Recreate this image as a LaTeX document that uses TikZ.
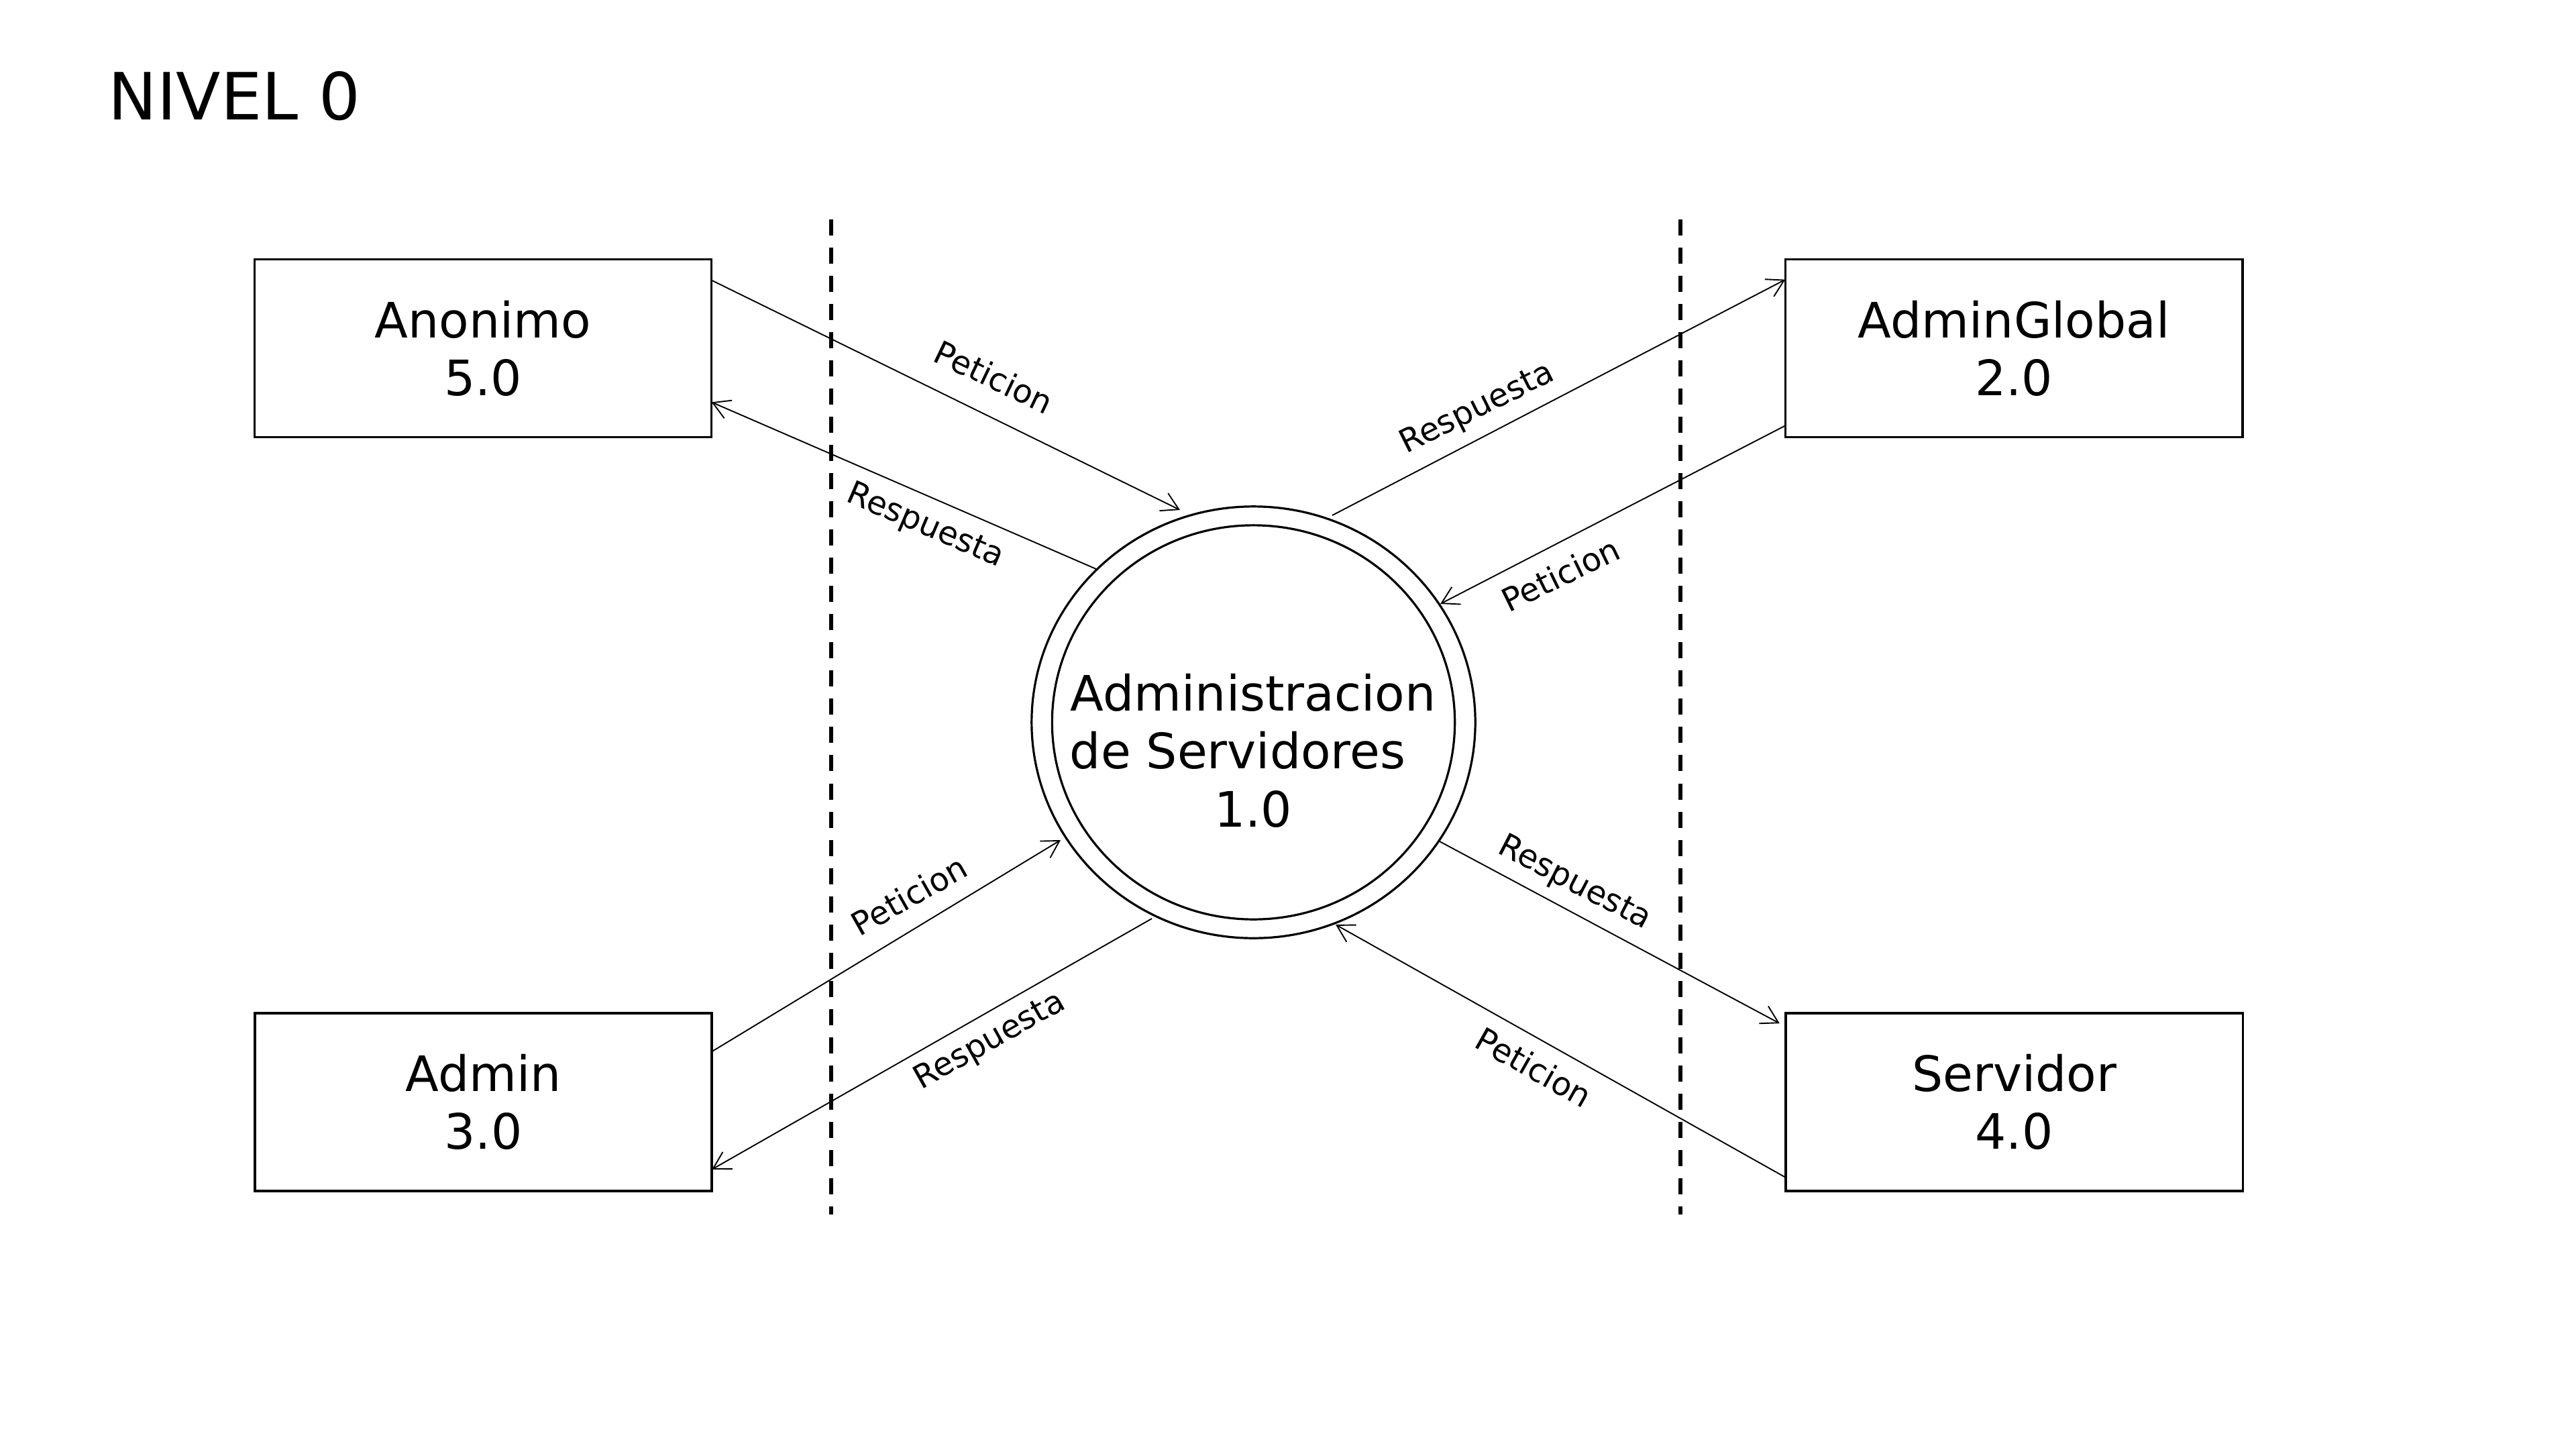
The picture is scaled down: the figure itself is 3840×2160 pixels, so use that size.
\documentclass[tikz,border=0pt]{standalone}
\usepackage{fontspec}
\setmainfont{DejaVu Sans}
\usetikzlibrary{arrows.meta,shapes.geometric,calc}
\begin{document}
\begin{tikzpicture}[x=0.01cm,y=-0.01cm,
  entity/.style={draw, line width=0.035cm, rectangle, minimum width=6.81cm, minimum height=2.645cm,
    inner sep=0pt, outer sep=0pt, align=center, font=\fontsize{20.7pt}{24.5pt}\selectfont},
  procring/.style={draw, line width=0.032cm, ellipse, inner sep=0pt, outer sep=0pt},
  proctxt/.style={inner sep=0pt, align=center, font=\fontsize{20.7pt}{24.6pt}\selectfont},
  flow/.style={line width=0.019cm, -{Straight Barb[length=0.25cm,width=0.29cm]}},
  flowlabel/.style={anchor=base, inner sep=0pt, font=\fontsize{13.66pt}{16pt}\selectfont},
  boundary/.style={line width=0.06cm, dash pattern=on 0.24cm off 0.18cm},
  titletxt/.style={anchor=base west, inner sep=0pt, font=\fontsize{27.6pt}{32pt}\selectfont},
]
\fill[white] (0,0) rectangle (3840,2160);
\useasboundingbox (0,0) rectangle (3840,2160);

% title
\node[titletxt] (title) at (161,178) {NIVEL 0};

% boundaries
\coordinate (b1top) at (1239,327);
\coordinate (b1bot) at (1239,1810);
\coordinate (b2top) at (2505,327);
\coordinate (b2bot) at (2505,1810);
\draw[boundary] (b1top) -- (b1bot);
\draw[boundary] (b2top) -- (b2bot);

% external entities
\node[entity] (anon)   at (720,519)    {Anonimo\\5.0};
\node[entity] (aglob)  at (3002,519)   {AdminGlobal\\2.0};
\node[entity] (admin)  at (720.5,1642.5) {Admin\\3.0};
\node[entity] (serv)   at (3002.5,1642.5) {Servidor\\4.0};

% process
\node[procring, minimum width=6.61cm, minimum height=6.43cm] (proc) at (1868.5,1076.5) {};
\node[procring, minimum width=6.00cm, minimum height=5.87cm] (procin) at (proc.center) {};
\node[proctxt] (proctext) at (1868,1118.5) {Administracion\\de Servidores\rule{0.636em}{0pt}\\1.0};

% flows
\draw[flow] ($(anon.north east)+(0,31)$) -- ([shift={(-109.5,-316.5)}]proc.center);
\draw[flow] ([shift={(-234.5,-228.5)}]proc.center) -- ($(anon.south east)+(0,-52)$);
\draw[flow] ([shift={(117.5,-308.5)}]proc.center) -- ($(aglob.north west)+(0,30)$);
\draw[flow] ($(aglob.south west)+(0,-17)$) -- ([shift={(278.5,-176.5)}]proc.center);
\draw[flow] ($(admin.north east)+(0,57)$) -- ([shift={(-287.5,175.5)}]proc.center);
\draw[flow] ([shift={(-151.5,292.5)}]proc.center) -- ($(admin.south east)+(0,-32)$);
\draw[flow] ([shift={(277.5,177.5)}]proc.center) -- ($(serv.north west)+(-9,15)$);
\draw[flow] ($(serv.south west)+(0,-20)$) -- ([shift={(122.5,301.5)}]proc.center);

% flow labels
\node[flowlabel, rotate=-25.5] (lab1) at (1474,578)  {Peticion};
\node[flowlabel, rotate=-23.3] (lab2) at (1374,796)  {Respuesta};
\node[flowlabel, rotate=26.5]  (lab3) at (2208,621)  {Respuesta};
\node[flowlabel, rotate=26]    (lab4) at (2334,872)  {Peticion};
\node[flowlabel, rotate=29.5]  (lab5) at (1364,1350) {Peticion};
\node[flowlabel, rotate=29.4]  (lab6) at (1482,1563) {Respuesta};
\node[flowlabel, rotate=-27.4] (lab7) at (2341,1328) {Respuesta};
\node[flowlabel, rotate=-29.5] (lab8) at (2278,1606) {Peticion};
\end{tikzpicture}
\end{document}
